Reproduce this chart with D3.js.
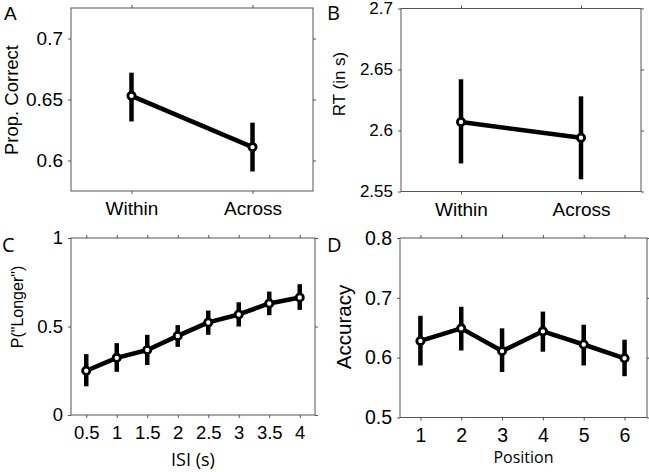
<!DOCTYPE html>
<html>
<head>
<meta charset="utf-8">
<script src="https://cdn.jsdelivr.net/npm/d3@7"></script>
<style>
  html,body{margin:0;padding:0;background:#fff;}
  svg{display:block;}
  .dom path.domain{display:none;}
  .dom line{stroke:#555;stroke-width:1;}
</style>
</head>
<body>
<svg id="fig" width="649" height="472"></svg>
<script>
'use strict';

/* ── data ───────────────────────────────────────────── */
const catLabels = ['Within', 'Across'];
const catX = [1, 2];

// A: proportion correct
const accMean = [0.653, 0.611];
const accLo   = [0.632, 0.591];
const accHi   = [0.672, 0.631];
const yTicksA = [0.6, 0.65, 0.7];

// B: reaction time
const rtMean = [2.607, 2.594];
const rtLo   = [2.573, 2.560];
const rtHi   = [2.642, 2.628];
const yTicksB = [2.55, 2.6, 2.65, 2.7];

// C: P("Longer") by ISI
const isi     = [0.5, 1, 1.5, 2, 2.5, 3, 3.5, 4];
const pLonger = [0.250, 0.323, 0.367, 0.447, 0.523, 0.568, 0.630, 0.664];
const pLo     = [0.162, 0.244, 0.282, 0.385, 0.453, 0.500, 0.564, 0.594];
const pHi     = [0.344, 0.406, 0.453, 0.508, 0.590, 0.637, 0.697, 0.739];
const yTicksC = [0, 0.5, 1];

// D: accuracy by position
const positions = [1, 2, 3, 4, 5, 6];
const posAcc = [0.628, 0.649, 0.611, 0.644, 0.622, 0.599];
const posLo  = [0.587, 0.612, 0.576, 0.610, 0.587, 0.569];
const posHi  = [0.670, 0.685, 0.649, 0.677, 0.655, 0.630];
const yTicksD = [0.5, 0.6, 0.7, 0.8];

/* ── panel drawing ──────────────────────────────────── */
const svg = d3.select('#fig');
const ARIAL = '"Liberation Sans", Arial, sans-serif';
const MYRIAD = '"Open Sans", "Noto Sans", sans-serif';

function drawPanel(p){
  const g = svg.append('g');
  const x = d3.scaleLinear().domain(p.xDomain).range([p.left, p.right]);
  const y = d3.scaleLinear().domain(p.yDomain).range([p.bottom, p.top]);

  // frame
  g.append('rect')
    .attr('x', p.left).attr('y', p.top)
    .attr('width', p.right - p.left).attr('height', p.bottom - p.top)
    .attr('fill', 'none').attr('stroke', '#555').attr('stroke-width', 1);

  const fmt = p.xFormat || (d => String(d));

  const bx = g.append('g').attr('class', 'dom')
    .attr('transform', `translate(0,${p.bottom})`)
    .call(d3.axisBottom(x).tickValues(p.xTicks).tickFormat(fmt).tickSizeOuter(0).tickSize(3).tickPadding(8));
  bx.selectAll('text').attr('font-family', ARIAL).attr('font-size', p.xFont).attr('fill', '#000');

  g.append('g').attr('class', 'dom')
    .attr('transform', `translate(0,${p.top})`)
    .call(d3.axisTop(x).tickValues(p.xTicks).tickFormat('').tickSizeOuter(0).tickSize(3));

  const ly = g.append('g').attr('class', 'dom')
    .attr('transform', `translate(${p.left},0)`)
    .call(d3.axisLeft(y).tickValues(p.yTicks).tickFormat(d => String(d)).tickSizeOuter(0).tickSize(3).tickPadding(5));
  ly.selectAll('text').attr('font-family', ARIAL).attr('font-size', p.yFont).attr('fill', '#000');

  g.append('g').attr('class', 'dom')
    .attr('transform', `translate(${p.right},0)`)
    .call(d3.axisRight(y).tickValues(p.yTicks).tickFormat('').tickSizeOuter(0).tickSize(3));

  // error bars
  g.selectAll('line.err').data(p.xs).join('line')
    .attr('class', 'err')
    .attr('x1', (d) => x(d)).attr('x2', (d) => x(d))
    .attr('y1', (d, i) => y(p.lo[i])).attr('y2', (d, i) => y(p.hi[i]))
    .attr('stroke', '#000').attr('stroke-width', 4.5);

  // mean line
  const line = d3.line().x(d => x(d[0])).y(d => y(d[1]));
  g.append('path')
    .datum(p.xs.map((d, i) => [d, p.mean[i]]))
    .attr('d', line)
    .attr('fill', 'none').attr('stroke', '#000').attr('stroke-width', 4.5)
    .attr('stroke-linejoin', 'round');

  // markers
  g.selectAll('circle.pt').data(p.xs).join('circle')
    .attr('class', 'pt')
    .attr('cx', d => x(d)).attr('cy', (d, i) => y(p.mean[i]))
    .attr('r', 3.6)
    .attr('fill', '#fff').attr('stroke', '#000').attr('stroke-width', 2.8);

  // y label
  g.append('text')
    .attr('transform', `translate(${p.yLabelX},${p.yLabelY}) rotate(-90)`)
    .attr('text-anchor', 'middle')
    .attr('font-family', ARIAL).attr('font-size', p.yLabelSize)
    .text(p.yLabel);

  // x label
  if (p.xLabel){
    g.append('text')
      .attr('x', (p.left + p.right) / 2).attr('y', p.xLabelY)
      .attr('text-anchor', 'middle')
      .attr('font-family', MYRIAD).attr('font-size', p.xLabelSize)
      .text(p.xLabel);
  }

  // panel letter
  g.append('text')
    .attr('x', p.letterX).attr('y', p.letterY)
    .attr('font-family', p.letterFont).attr('font-size', p.letterSize)
    .text(p.letter);
}

drawPanel({
  letter: 'A', letterX: 4, letterY: 20, letterFont: ARIAL, letterSize: 19,
  left: 71, right: 313, top: 8, bottom: 191,
  xDomain: [0.5, 2.5], yDomain: [0.575, 0.725],
  xTicks: catX, xFormat: (d) => catLabels[d - 1], yTicks: yTicksA,
  xs: catX, mean: accMean, lo: accLo, hi: accHi,
  xFont: 19, yFont: 19,
  yLabel: 'Prop. Correct', yLabelX: 18, yLabelY: 100, yLabelSize: 18.5
});

drawPanel({
  letter: 'B', letterX: 327, letterY: 20, letterFont: MYRIAD, letterSize: 20,
  left: 401, right: 641, top: 8.5, bottom: 191.5,
  xDomain: [0.5, 2.5], yDomain: [2.55, 2.7],
  xTicks: catX, xFormat: (d) => catLabels[d - 1], yTicks: yTicksB,
  xs: catX, mean: rtMean, lo: rtLo, hi: rtHi,
  xFont: 19, yFont: 17,
  yLabel: 'RT (in s)', yLabelX: 345, yLabelY: 84, yLabelSize: 17
});

drawPanel({
  letter: 'C', letterX: 2, letterY: 252, letterFont: MYRIAD, letterSize: 20,
  left: 71, right: 315, top: 238, bottom: 415,
  xDomain: [0.25, 4.25], yDomain: [0, 1],
  xTicks: isi, yTicks: yTicksC,
  xs: isi, mean: pLonger, lo: pLo, hi: pHi,
  xFont: 18.5, yFont: 18.5,
  yLabel: 'P("Longer")', yLabelX: 23, yLabelY: 307, yLabelSize: 16,
  xLabel: 'ISI (s)', xLabelY: 466, xLabelSize: 18
});

drawPanel({
  letter: 'D', letterX: 327, letterY: 252, letterFont: MYRIAD, letterSize: 20,
  left: 400, right: 647, top: 238, bottom: 417.5,
  xDomain: [0.5, 6.55], yDomain: [0.5, 0.8],
  xTicks: positions, yTicks: yTicksD,
  xs: positions, mean: posAcc, lo: posLo, hi: posHi,
  xFont: 19.5, yFont: 19.5,
  yLabel: 'Accuracy', yLabelX: 351, yLabelY: 327, yLabelSize: 20.5,
  xLabel: 'Position', xLabelY: 463, xLabelSize: 16
});
</script>
</body>
</html>
